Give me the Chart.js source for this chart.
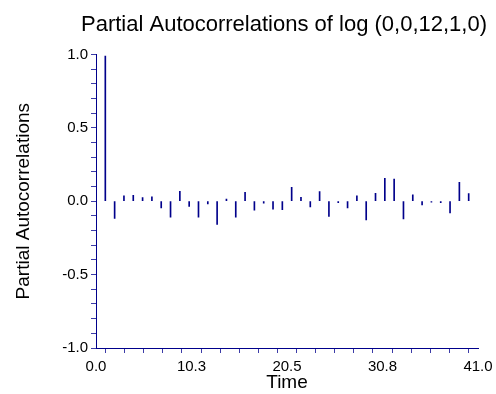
<!DOCTYPE html>
<html>
<head>
<meta charset="utf-8">
<script src="https://cdn.jsdelivr.net/npm/chart.js@4.4.1/dist/chart.umd.min.js"></script>
<style>
  html, body { margin: 0; padding: 0; background: #fff; }
  #wrap { position: relative; width: 496px; height: 394px; }
</style>
</head>
<body>
<div id="wrap"><canvas id="chart"></canvas></div>
<script>
/* data */
const lags = [1, 2, 3, 4, 5, 6, 7, 8, 9, 10, 11, 12, 13, 14, 15, 16, 17, 18, 19, 20,
  21, 22, 23, 24, 25, 26, 27, 28, 29, 30, 31, 32, 33, 34, 35, 36, 37, 38, 39, 40];
const pacf = [0.988, -0.118, 0.036, 0.040, 0.025, 0.030, -0.045, -0.109, 0.068, -0.036,
  -0.109, -0.018, -0.159, 0.014, -0.109, 0.061, -0.061, -0.014, -0.054, -0.058,
  0.095, 0.027, -0.039, 0.066, -0.104, -0.010, -0.045, 0.036, -0.127, 0.054,
  0.156, 0.150, -0.120, 0.043, -0.025, -0.006, -0.010, -0.079, 0.129, 0.052];

const xTickStep = 2.05;          // 20 minor divisions over 0..41
const xTickLabels = ['0.0', '10.3', '20.5', '30.8', '41.0'];
const yTickStep = 0.1;
const yTickLabels = ['-1.0', '-0.5', '0.0', '0.5', '1.0'];

const NAVY = '#00008b';
const TICK = '#3c3ca8';
const FONT = "'Liberation Sans', Arial, sans-serif";

const xTicks = [];
for (let i = 0; i <= 20; i++) xTicks.push(+(i * xTickStep).toFixed(2));
const yTicks = [];
for (let i = 0; i <= 20; i++) yTicks.push(+(-1 + i * yTickStep).toFixed(1));

new Chart(document.getElementById('chart'), {
  type: 'bar',
  data: {
    datasets: [{
      label: 'PACF',
      data: lags.map((l, i) => ({ x: l, y: pacf[i] })),
      backgroundColor: NAVY,
      borderWidth: 0,
      barThickness: 1,
    }],
  },
  options: {
    responsive: true,
    maintainAspectRatio: false,
    animation: false,
    layout: { padding: { left: 0, right: 9, top: 0, bottom: 0 } },
    plugins: {
      legend: { display: false },
      tooltip: { enabled: false },
      title: {
        display: true,
        text: 'Partial Autocorrelations of log (0,0,12,1,0)',
        align: 'end',
        color: '#000',
        font: { family: FONT, size: 22, weight: 'normal' },
        padding: { top: 12, bottom: 16 },
      },
    },
    scales: {
      x: {
        type: 'linear',
        min: 0,
        max: 41,
        offset: false,
        afterBuildTicks: (s) => { s.ticks = xTicks.map((v) => ({ value: v })); },
        afterFit: (s) => { s.height = 46; s.paddingRight = 18; s.paddingLeft = 0; },
        ticks: {
          autoSkip: false,
          maxRotation: 0,
          padding: 5,
          color: '#000',
          font: { family: FONT, size: 15 },
          callback: (v, i) => (i % 5 === 0 ? xTickLabels[i / 5] : ''),
        },
        grid: { drawOnChartArea: false, drawTicks: true, tickLength: 5, color: TICK },
        border: { display: true, color: NAVY },
        title: {
          display: true,
          text: 'Time',
          color: '#000',
          font: { family: FONT, size: 19 },
          padding: { top: 0, bottom: 0 },
        },
      },
      y: {
        min: -1,
        max: 1,
        afterBuildTicks: (s) => { s.ticks = yTicks.map((v) => ({ value: v })); },
        afterFit: (s) => { s.width = 96; s.paddingTop = 0; s.paddingBottom = 0; },
        ticks: {
          autoSkip: false,
          padding: 3,
          color: '#000',
          font: { family: FONT, size: 15 },
          callback: (v, i) => (i % 5 === 0 ? yTickLabels[i / 5] : ''),
        },
        grid: { drawOnChartArea: false, drawTicks: true, tickLength: 5, color: TICK },
        border: { display: true, color: NAVY },
        title: {
          display: true,
          text: 'Partial Autocorrelations',
          color: '#000',
          font: { family: FONT, size: 19 },
          padding: { top: 12, bottom: 0 },
        },
      },
    },
  },
});
</script>
</body>
</html>
